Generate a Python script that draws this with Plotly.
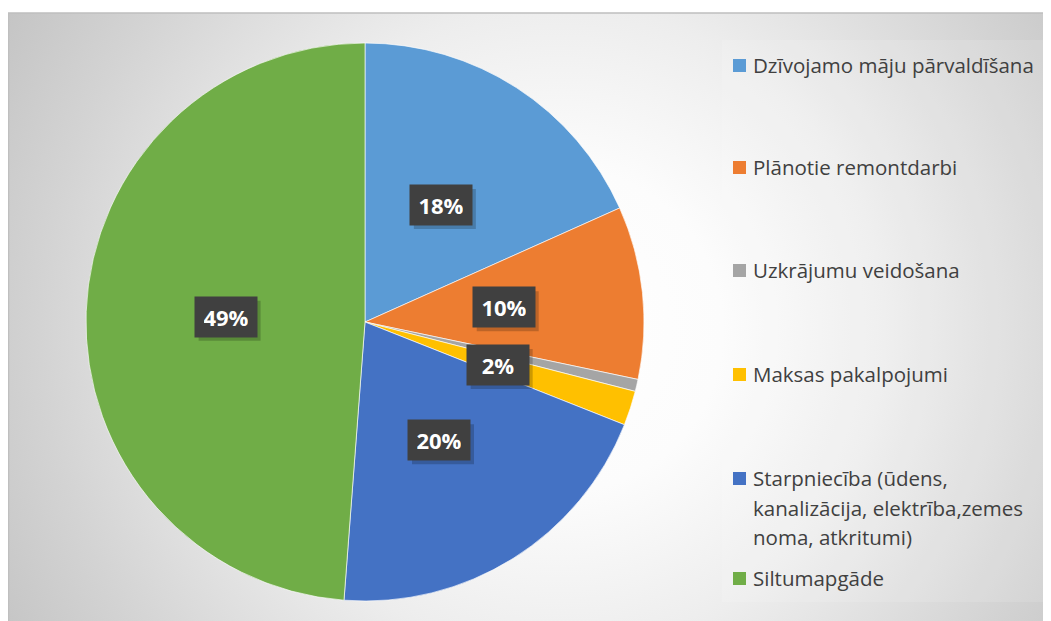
import base64
import math
import plotly.graph_objects as go

# ---- data ----
categories = [
    "Dzīvojamo māju pārvaldīšana",
    "Plānotie remontdarbi",
    "Uzkrājumu veidošana",
    "Maksas pakalpojumi",
    "Starpniecība (ūdens,<br>kanalizācija, elektrība,zemes<br>noma, atkritumi)",
    "Siltumapgāde",
]
values = [18.3, 10.0, 0.7, 2.0, 20.2, 48.8]
show_label = [True, True, False, True, True, True]
colors = ["#5B9BD5", "#ED7D31", "#A5A5A5", "#FFC000", "#4472C4", "#70AD47"]

W, H = 1051, 621
OFF = 8  # page body margin


def px_x(x):
    return (x - OFF) / W


def px_y(y):
    return 1 - (y - OFF) / H


# pie geometry (screen pixels)
cx, cy, R = 365, 322, 279

fig = go.Figure()
fig.add_trace(go.Pie(
    labels=[c.replace("<br>", " ") for c in categories],
    values=values,
    sort=False,
    direction="clockwise",
    rotation=0,
    marker=dict(colors=colors, line=dict(color="rgba(255,255,255,0.8)", width=0.8)),
    textinfo="none",
    hoverinfo="label+percent",
    showlegend=False,
    domain=dict(x=[px_x(cx - R), px_x(cx + R)], y=[px_y(cy + R), px_y(cy - R)]),
))

annotations = []
shapes = []

# legend background box (very subtle)
shapes.append(dict(type="rect", xref="paper", yref="paper", layer="below",
                   x0=px_x(722), x1=px_x(1048), y0=px_y(602), y1=px_y(40),
                   fillcolor="rgba(255,255,255,0.12)", line=dict(width=0)))

total = sum(values)
cum = 0.0
tw, th, pad = 44, 22, 9
bw_lab, bh_lab = tw + 2 * pad, th + 2 * pad
for v, show in zip(values, show_label):
    mid = (cum + v / 2) / total * 2 * math.pi
    cum += v
    if not show:
        continue
    px = cx + 0.5 * R * math.sin(mid)
    py = cy - 0.5 * R * math.cos(mid)
    txt = "%d%%" % round(v / total * 100)
    # drop shadow
    shapes.append(dict(type="rect", xref="paper", yref="paper", layer="above",
                       x0=px_x(px - bw_lab / 2 + 4), x1=px_x(px + bw_lab / 2 + 4),
                       y0=px_y(py + bh_lab / 2 + 4), y1=px_y(py - bh_lab / 2 + 4),
                       fillcolor="rgba(0,0,0,0.2)", line=dict(width=0)))
    annotations.append(dict(
        x=px_x(px), y=px_y(py), xref="paper", yref="paper", text="<b>%s</b>" % txt,
        xanchor="center", yanchor="middle", showarrow=False,
        font=dict(family="Open Sans", size=22, color="white"),
        bgcolor="#404040", borderpad=pad, width=tw, height=th,
    ))

# ---- legend (manual) ----
legend_y = [65, 167, 270, 374, 478, 578]
line_gap = 29.5
for cat, col, ly in zip(categories, colors, legend_y):
    shapes.append(dict(type="rect", xref="paper", yref="paper",
                       x0=px_x(733), x1=px_x(746), y0=px_y(ly + 7), y1=px_y(ly - 6),
                       fillcolor=col, line=dict(width=0)))
    for i, line in enumerate(cat.split("<br>")):
        annotations.append(dict(
            x=px_x(751), y=px_y(ly + i * line_gap), xref="paper", yref="paper",
            xanchor="left", yanchor="middle", text=line, showarrow=False,
            font=dict(family="Open Sans", size=20.5, color="#404040"),
        ))

# frame
shapes.append(dict(type="rect", xref="paper", yref="paper", x0=px_x(8.5), x1=1.02,
                   y0=-0.02, y1=px_y(13), line=dict(color="#bfbfbf", width=1.5),
                   fillcolor="rgba(0,0,0,0)", layer="above"))

# radial gradient background
bw, bh = W, H
svg = (
    '<svg xmlns="http://www.w3.org/2000/svg" width="%d" height="%d" viewBox="0 0 %d %d" '
    'preserveAspectRatio="none"><defs><radialGradient id="g" gradientUnits="userSpaceOnUse" '
    'cx="%d" cy="%d" r="650">'
    '<stop offset="0" stop-color="rgb(255,255,255)"/>'
    '<stop offset="0.25" stop-color="rgb(252,252,252)"/>'
    '<stop offset="0.5" stop-color="rgb(237,237,237)"/>'
    '<stop offset="0.8" stop-color="rgb(211,211,211)"/>'
    '<stop offset="1" stop-color="rgb(195,195,195)"/>'
    '</radialGradient></defs><rect width="%d" height="%d" fill="url(#g)"/></svg>'
) % (bw, bh, bw, bh, 552, 317, bw, bh)
src = "data:image/svg+xml;base64," + base64.b64encode(svg.encode()).decode()

fig.update_layout(
    width=W, height=H,
    margin=dict(l=0, r=0, t=0, b=0),
    paper_bgcolor="white",
    plot_bgcolor="rgba(0,0,0,0)",
    annotations=annotations,
    shapes=shapes,
    images=[dict(source=src, xref="paper", yref="paper", x=px_x(8), y=px_y(13),
                 sizex=bw / W, sizey=bh / H, xanchor="left", yanchor="top",
                 sizing="stretch", layer="below")],
)

fig.write_html("out.html")
